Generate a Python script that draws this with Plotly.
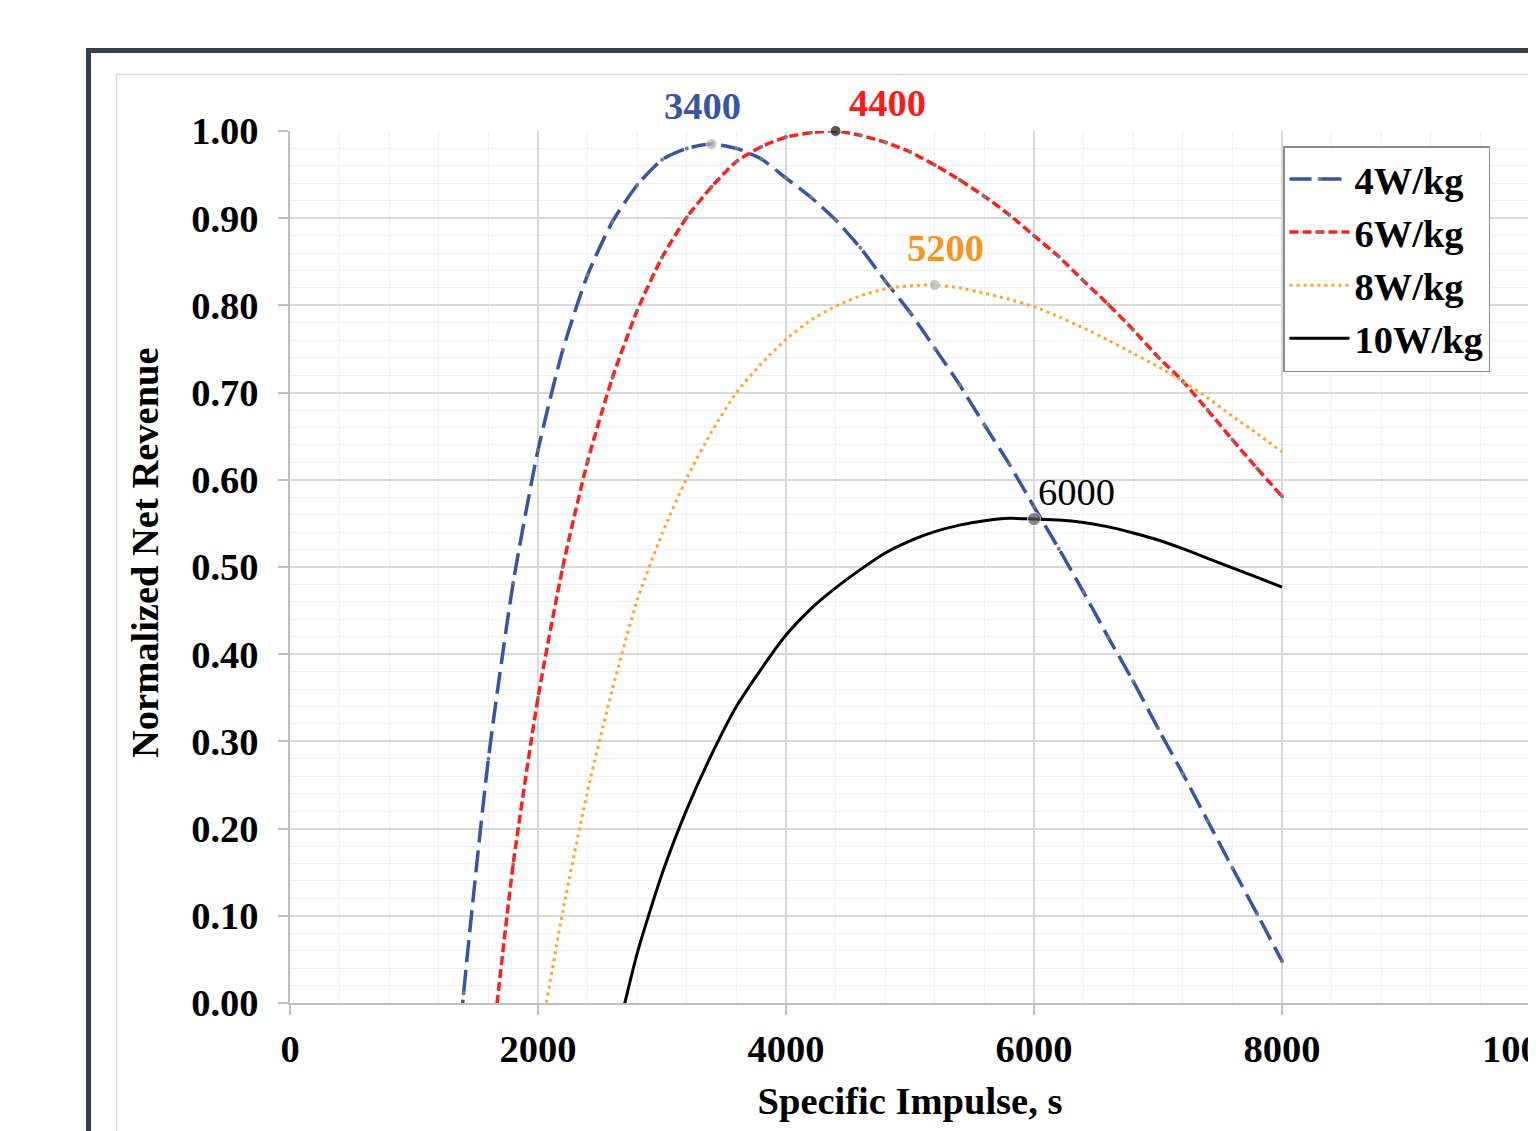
import plotly.graph_objects as go

# ---------------- data ----------------
isp_4 = [1200, 1400, 1600, 1800, 2000, 2200, 2400, 2600, 2800, 3000, 3200, 3400, 3600, 3800,
         4000, 4200, 4400, 4600, 4800, 5000, 5200, 5400, 5600, 5800, 6000, 6200, 6400, 6600,
         6800, 7000, 7200, 7400, 7600, 7800, 8000]
rev_4 = [-0.33, 0.011, 0.280, 0.482, 0.634, 0.749, 0.835, 0.896, 0.938, 0.967, 0.980, 0.985,
         0.980, 0.968, 0.946, 0.924, 0.898, 0.866, 0.828, 0.792, 0.751, 0.709, 0.663, 0.618,
         0.569, 0.521, 0.471, 0.419, 0.369, 0.315, 0.263, 0.209, 0.155, 0.102, 0.048]

isp_6 = [1600, 1800, 2000, 2200, 2400, 2600, 2800, 3000, 3200, 3400, 3600, 3800, 4000, 4200,
         4400, 4600, 4800, 5000, 5200, 5400, 5600, 5800, 6000, 6200, 6400, 6600, 6800, 7000,
         7200, 7400, 7600, 7800, 8000]
rev_6 = [-0.09, 0.159, 0.350, 0.500, 0.621, 0.717, 0.794, 0.855, 0.901, 0.936, 0.965, 0.982,
         0.993, 0.998, 1.000, 0.995, 0.987, 0.976, 0.961, 0.944, 0.925, 0.904, 0.880, 0.856,
         0.828, 0.801, 0.772, 0.741, 0.713, 0.680, 0.646, 0.613, 0.581]

isp_8 = [2000, 2200, 2400, 2600, 2800, 3000, 3200, 3400, 3600, 3800, 4000, 4200, 4400, 4600,
         4800, 5000, 5200, 5400, 5600, 5800, 6000, 6200, 6400, 6600, 6800, 7000, 7200, 7400,
         7600, 7800, 8000]
rev_8 = [-0.055, 0.105, 0.243, 0.360, 0.462, 0.538, 0.602, 0.655, 0.700, 0.733, 0.761, 0.783,
         0.799, 0.811, 0.819, 0.8225, 0.8234, 0.820, 0.814, 0.807, 0.7985, 0.787, 0.774, 0.760,
         0.745, 0.730, 0.713, 0.694, 0.673, 0.653, 0.632]

isp_10 = [2600, 2800, 3000, 3200, 3400, 3600, 3800, 4000, 4200, 4400, 4600, 4800, 5000, 5200,
          5400, 5600, 5800, 6000, 6200, 6400, 6600, 6800, 7000, 7200, 7400, 7600, 7800, 8000]
rev_10 = [-0.06, 0.057, 0.148, 0.222, 0.285, 0.340, 0.383, 0.422, 0.452, 0.476, 0.497, 0.516,
          0.530, 0.5405, 0.548, 0.553, 0.5558, 0.555, 0.554, 0.551, 0.546, 0.539, 0.531, 0.521,
          0.510, 0.499, 0.488, 0.477]

series_names = ["4W/kg", "6W/kg", "8W/kg", "10W/kg"]
optimum_isp = [3400, 4400, 5200, 6000]
optimum_labels = ["3400", "4400", "5200", "6000"]

x_ticks = [0, 2000, 4000, 6000, 8000, 10000]
y_ticks = [0.0, 0.1, 0.2, 0.3, 0.4, 0.5, 0.6, 0.7, 0.8, 0.9, 1.0]

x_title = "Specific Impulse, s"
y_title = "Normalized Net Revenue"

# ---------------- styling ----------------
FONT = "Liberation Serif"
FS = 38.5
OFF = 8  # page body margin
W, H = 1536 - OFF, 1131 - OFF
ML, MR, MT, MB = 290 - OFF, 6, 131 - OFF, 128

blue = "#3A54A4"
red = "#FF1F1F"
orange = "#FFA533"
black = "#000000"

series = [
    (isp_4, rev_4, blue, dict(width=3.5, dash="22px,8px"), True),
    (isp_6, rev_6, red, dict(width=3.5, dash="9px,4px"), True),
    (isp_8, rev_8, orange, dict(width=3, dash="3px,4px"), False),
    (isp_10, rev_10, black, dict(width=3, dash="solid"), False),
]

fig = go.Figure()
for (xs, ys, col, ls, mk), name in zip(series, series_names):
    fig.add_trace(go.Scatter(
        x=xs, y=ys, name=name,
        mode="lines+markers" if mk else "lines",
        line=dict(color=col, shape="spline", smoothing=0.6, **ls),
        marker=dict(size=4, color="#7a7a7a"),
    ))

# optimum points
all_series = [(isp_4, rev_4), (isp_6, rev_6), (isp_8, rev_8), (isp_10, rev_10)]
opt_y = [ys[xs.index(ox)] for (xs, ys), ox in zip(all_series, optimum_isp)]
fig.add_trace(go.Scatter(
    x=optimum_isp, y=opt_y, mode="markers", showlegend=False, cliponaxis=False,
    marker=dict(size=[11, 11, 11, 13], color=["#b5b5b5", "#111111", "#b5b5b5", "#5a5a5a"]),
))

label_colors = [blue, "#FF1A1A", "#F7941D", "#000000"]
label_weights = ["bold", "bold", "bold", "normal"]
label_shift = [(-9, 38), (52, 28), (11, 37), (42, 27)]
for ox, oy, txt, c, wgt, (dx, dy) in zip(optimum_isp, opt_y, optimum_labels, label_colors,
                                         label_weights, label_shift):
    fig.add_annotation(x=ox, y=oy, text=txt, showarrow=False, xshift=dx, yshift=dy,
                       font=dict(family=FONT, size=FS, color=c, weight=wgt))

# frame shapes (page pixel -> paper)
pw = W - ML - MR
ph = H - MT - MB
def px(v):
    return (v - OFF - ML) / pw
def py(v):
    return (H - MB - (v - OFF)) / ph

fig.add_shape(type="rect", xref="paper", yref="paper",
              x0=px(88.5), y0=py(50.5), x1=px(1536 + 40), y1=py(1131 + 40),
              line=dict(color="#36404A", width=5), fillcolor="rgba(0,0,0,0)")
fig.add_shape(type="rect", xref="paper", yref="paper",
              x0=px(116.5), y0=py(74.5), x1=px(1536 + 40), y1=py(1131 + 40),
              line=dict(color="#D9D9D9", width=1.5), fillcolor="rgba(0,0,0,0)")

axis_font = dict(family=FONT, size=FS, color="black", weight="bold")

# y-axis title (placed slightly above centre, as in the original)
fig.add_annotation(xref="paper", yref="paper", x=px(145), y=py(553),
                   xanchor="center", yanchor="middle", textangle=-90,
                   text=y_title, showarrow=False, font=axis_font)

fig.update_layout(
    width=W, height=H,
    margin=dict(l=ML, r=MR, t=MT, b=MB, autoexpand=False),
    paper_bgcolor="white", plot_bgcolor="white",
    showlegend=True,
    legend=dict(x=px(1283), y=py(146), xanchor="left", yanchor="top",
                bgcolor="white", bordercolor="#8C8C8C", borderwidth=1.5,
                font=dict(family=FONT, size=FS, color="black", weight="bold"),
                itemwidth=60, tracegroupgap=0),
    xaxis=dict(range=[0, 10000], tickvals=x_ticks, tickformat="d",
               ticklabeloverflow="allow",
               showgrid=True, gridcolor="#D9D9D9", gridwidth=1.5,
               minor=dict(dtick=400, showgrid=True, gridcolor="#F0F0F0", gridwidth=1),
               showline=True, linecolor="#BFBFBF", linewidth=1.5,
               ticks="outside", ticklen=10, tickcolor="#BFBFBF", tickwidth=1.5,
               zeroline=False, tickfont=axis_font, ticklabelstandoff=1,
               title=dict(text=x_title, font=axis_font, standoff=18)),
    yaxis=dict(range=[0, 1], tickvals=y_ticks, tickformat=".2f",
               showgrid=True, gridcolor="#D9D9D9", gridwidth=1.5,
               minor=dict(dtick=0.02, showgrid=True, gridcolor="#F0F0F0", gridwidth=1),
               showline=True, linecolor="#BFBFBF", linewidth=1.5,
               ticks="outside", ticklen=10, tickcolor="#BFBFBF", tickwidth=1.5,
               zeroline=False, tickfont=axis_font, ticklabelstandoff=12),
)

fig.write_html("out.html")
